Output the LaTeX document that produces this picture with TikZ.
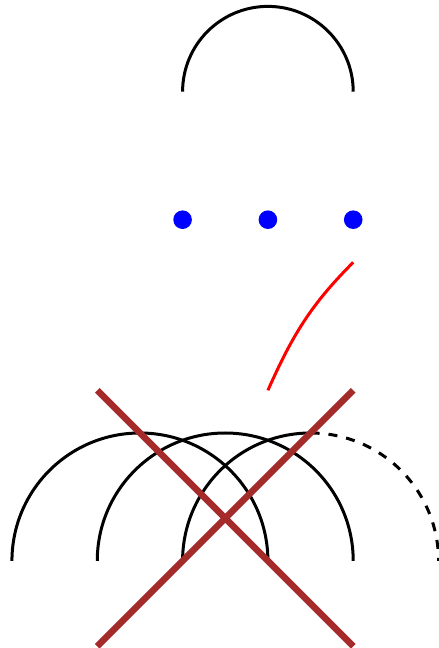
\documentclass[tikz,border=0pt]{standalone}
\usepackage{tikz}
\usetikzlibrary{positioning, calc}
\definecolor{crossred}{RGB}{165,42,42}

\begin{document}
\begin{tikzpicture}[
curve/.style={line width=1pt, black},
dot/.style={circle, fill=blue, inner sep=0pt, minimum size=6.2pt},
cross/.style={line width=2.2pt, crossred}
]
\useasboundingbox (-3.14,-5.02) rectangle (2.005,2.575);
% top arc
\draw[curve] (-1,1.5) arc[start angle=180, end angle=0, radius=1];
% dots
\node[dot] (left) at (-1,0) {};
\node[dot, right=1cm of left.center, anchor=center] (mid) {};
\node[dot, right=1cm of mid.center, anchor=center] (right) {};
% red curve
\coordinate (from) at (1,-0.5);
\coordinate (to) at (0,-2);
\draw[line width=1pt, red] (from) to[out=225, in=66] (to);
% bottom arcs
\draw[curve] (-3,-4) arc[start angle=180, end angle=0, radius=1.5];
\draw[curve] (-2,-4) arc[start angle=180, end angle=0, radius=1.5];
\draw[curve] (-1,-4) arc[start angle=180, end angle=90, radius=1.5];
\draw[curve, dashed] (0.5,-2.5) arc[start angle=90, end angle=0, radius=1.5];
% cross
\coordinate (tl) at (-2,-2);
\coordinate (tr) at (1,-2);
\coordinate (bl) at (-2,-5);
\coordinate (br) at (1,-5);
\draw[cross] (tl) -- (br);
\draw[cross] (tr) -- (bl);
\end{tikzpicture}
\end{document}
